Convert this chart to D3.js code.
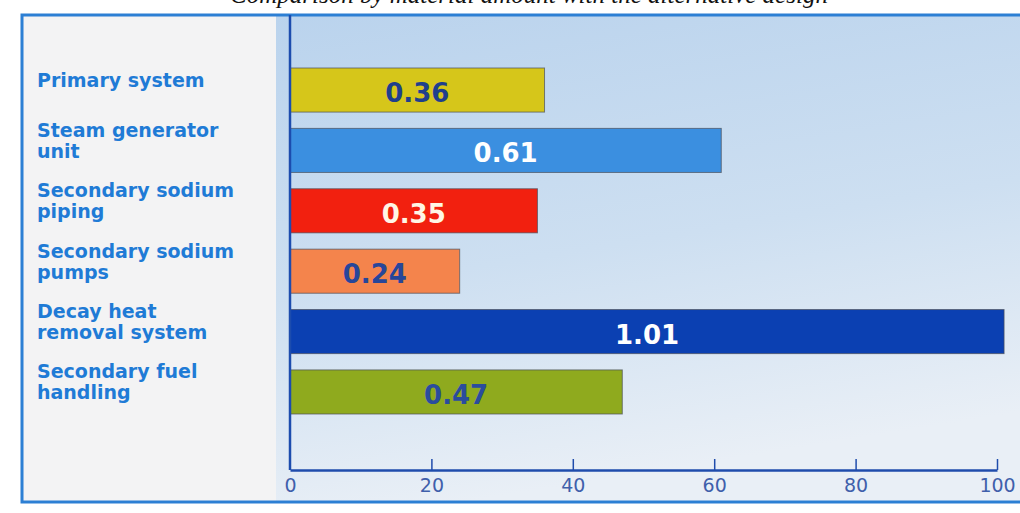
<!DOCTYPE html>
<html>
<head>
<meta charset="utf-8">
<script src="https://cdn.jsdelivr.net/npm/d3@7"></script>
<style>
  html, body { margin: 0; padding: 0; background: #ffffff; }
  svg { display: block; }
</style>
</head>
<body>
<script>
// Chart data
const categories = [
  "Primary system",
  "Steam generator\nunit",
  "Secondary sodium\npiping",
  "Secondary sodium\npumps",
  "Decay heat\nremoval system",
  "Secondary fuel\nhandling"
];
const values = [0.36, 0.61, 0.35, 0.24, 1.01, 0.47];
const valueLabels = ["0.36", "0.61", "0.35", "0.24", "1.01", "0.47"];
const xTicks = [0, 20, 40, 60, 80, 100];
const titleText = "Comparison by material amount with the alternative design";

// Colours
const barColors = ["#d6c61a", "#3b8fe0", "#f2200f", "#f4844c", "#0b40b2", "#8faa1e"];
const valueColors = ["#1f3f8c", "#ffffff", "#fff6e6", "#27469a", "#ffffff", "#2a4c9e"];

const W = 1020, H = 513;
const svg = d3.select("body").append("svg").attr("width", W).attr("height", H);

const defs = svg.append("defs");
const grad = defs.append("linearGradient").attr("id", "plotBg")
  .attr("x1", 0).attr("y1", 0).attr("x2", 0.25).attr("y2", 1);
grad.append("stop").attr("offset", 0).attr("stop-color", "#bad3ed");
grad.append("stop").attr("offset", 0.55).attr("stop-color", "#cddff1");
grad.append("stop").attr("offset", 1).attr("stop-color", "#e9eff6");

// Title, running off the top edge of the page
svg.append("text")
  .attr("x", 230).attr("y", 3)
  .attr("font-family", "Liberation Serif, Times New Roman, serif")
  .attr("font-style", "italic")
  .attr("font-size", 25)
  .attr("fill", "#111")
  .text(titleText);

// Frame panels
const frame = { left: 22, top: 15, bottom: 502 };
const plotLeft = 276;
svg.append("rect").attr("x", frame.left).attr("y", frame.top)
  .attr("width", plotLeft - frame.left).attr("height", frame.bottom - frame.top)
  .attr("fill", "#f3f3f4");
svg.append("rect").attr("x", plotLeft).attr("y", frame.top)
  .attr("width", W - plotLeft + 10).attr("height", frame.bottom - frame.top)
  .attr("fill", "url(#plotBg)");
svg.append("rect").attr("x", frame.left).attr("y", frame.top)
  .attr("width", W - frame.left + 20).attr("height", frame.bottom - frame.top)
  .attr("fill", "none").attr("stroke", "#2c7fd4").attr("stroke-width", 3);

// Scales
const x = d3.scaleLinear().domain([0, 100]).range([290, 997]);
const y = d3.scaleBand().domain(d3.range(categories.length))
  .range([68, 414]).paddingInner(0.27).paddingOuter(0);
const axisY = 470;

// Bars
const bars = svg.append("g");
bars.selectAll("rect").data(values).join("rect")
  .attr("x", x(0))
  .attr("y", (d, i) => y(i))
  .attr("width", d => x(d * 100) - x(0))
  .attr("height", y.bandwidth())
  .attr("fill", (d, i) => barColors[i])
  .attr("stroke", "#4a4f5a")
  .attr("stroke-width", 1)
  .attr("stroke-opacity", 0.7);

// Value labels inside bars
bars.selectAll("text").data(values).join("text")
  .attr("x", d => (x(0) + x(d * 100)) / 2)
  .attr("y", (d, i) => y(i) + y.bandwidth() / 2 + 12)
  .attr("text-anchor", "middle")
  .attr("font-family", "DejaVu Sans, sans-serif")
  .attr("font-weight", "bold")
  .attr("font-size", 26)
  .attr("fill", (d, i) => valueColors[i])
  .text((d, i) => valueLabels[i]);

// Category labels, one text element per line
const lineH = 21;
const labels = svg.append("g")
  .attr("font-family", "DejaVu Sans, sans-serif")
  .attr("font-weight", "bold")
  .attr("font-size", 19)
  .attr("fill", "#1f7bd6");
categories.forEach((c, i) => {
  const lines = c.split("\n");
  const cy = y(i) + y.bandwidth() / 2;
  lines.forEach((ln, k) => {
    labels.append("text")
      .attr("x", 37)
      .attr("y", cy + (k - (lines.length - 1) / 2) * lineH - 3)
      .text(ln);
  });
});

// Vertical axis line
svg.append("line")
  .attr("x1", x(0)).attr("x2", x(0))
  .attr("y1", frame.top).attr("y2", axisY)
  .attr("stroke", "#1c4cae").attr("stroke-width", 2.5);

// Bottom axis
const xAxis = d3.axisBottom(x).tickValues(xTicks)
  .tickSizeInner(-11).tickSizeOuter(0).tickPadding(9)
  .tickFormat(d3.format("d"));
const gx = svg.append("g").attr("transform", `translate(0,${axisY})`).call(xAxis);
gx.select(".domain").attr("stroke", "#1f4cac").attr("stroke-width", 2.5);
gx.selectAll(".tick line").attr("stroke", "#1f4cac").attr("stroke-width", 1.5);
gx.selectAll(".tick").filter(d => d === 0).select("line").remove();
gx.selectAll(".tick text")
  .attr("font-family", "DejaVu Sans, sans-serif")
  .attr("font-size", 19)
  .attr("fill", "#3f5fab");
</script>
</body>
</html>
